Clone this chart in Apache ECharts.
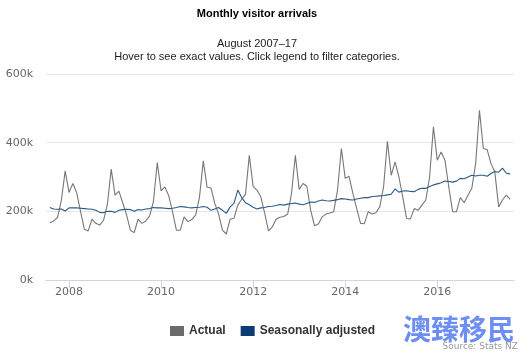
<!DOCTYPE html>
<html>
<head>
<meta charset="utf-8">
<title>Monthly visitor arrivals</title>
<script src="https://cdn.jsdelivr.net/npm/echarts@6/dist/echarts.min.js"></script>
<style>
  html, body { margin: 0; padding: 0; background: #fff; }
  #chart { width: 532px; height: 354px; }
</style>
</head>
<body>
<div id="chart"></div>
<script>
// first month of the data: August 2007, one value per month up to August 2017
var startYear = 2007;
var startMonth = 8;

// actual arrivals, thousands (Aug 2007 .. Aug 2017)
var actual = [
  167, 172, 182, 232, 318,
  255, 281, 254, 200, 148, 143, 177, 165, 160, 174, 220, 323,
  247, 259, 225, 190, 145, 138, 177, 165, 172, 186, 228, 342,
  260, 271, 245, 198, 145, 145, 184, 170, 176, 189, 240, 347,
  270, 268, 223, 192, 145, 134, 177, 180, 218, 235, 250, 363,
  272, 262, 242, 195, 143, 155, 177, 183, 185, 192, 252, 363,
  264, 281, 273, 203, 158, 163, 184, 192, 195, 199, 262, 383,
  296, 302, 252, 208, 165, 164, 199, 192, 196, 213, 271, 404,
  305, 344, 300, 242, 179, 178, 208, 203, 218, 233, 300, 446,
  349, 373, 349, 271, 199, 199, 240, 225, 247, 267, 339, 494,
  383, 380, 339, 315, 213, 233, 247, 235
];

// seasonally adjusted, thousands
var seasonal = [
  211, 207, 206, 207, 201,
  210, 210, 210, 209, 208, 207, 206, 203, 197, 196, 200, 200,
  197, 203, 205, 206, 205, 200, 205, 204, 207, 208, 211, 210,
  210, 209, 208, 209, 211, 214, 213, 211, 210, 211, 212, 214,
  212, 203, 207, 211, 203, 194, 213, 223, 262, 240, 225, 219,
  212, 207, 210, 211, 214, 215, 217, 220, 218, 221, 223, 224,
  221, 219, 223, 227, 226, 230, 233, 231, 230, 232, 234, 237,
  236, 234, 233, 236, 238, 240, 240, 243, 244, 245, 246, 248,
  250, 265, 256, 259, 260, 258, 257, 264, 267, 267, 272, 277,
  280, 283, 288, 287, 285, 288, 296, 295, 300, 305, 303, 305,
  305, 302, 310, 316, 314, 326, 311, 309
];

var tickYears = [2008, 2010, 2012, 2014, 2016];
var yTicks = [0, 200, 400, 600];

// x position = months since January 2008
function monthPos(i) {
  return (startYear - 2008) * 12 + (startMonth - 1) + i;
}
function pairs(arr) {
  return arr.map(function (v, i) { return [monthPos(i), v * 1000]; });
}
var tickPos = tickYears.map(function (y) { return (y - 2008) * 12; });

var chart = echarts.init(document.getElementById('chart'));
chart.setOption({
  animation: false,
  backgroundColor: '#fff',
  grid: { left: 46, right: 18, top: 74, bottom: 74 },
  xAxis: {
    type: 'value',
    min: monthPos(-1),
    max: monthPos(actual.length),
    axisLine: { show: true, lineStyle: { color: '#ccd6eb', width: 1 } },
    axisTick: { show: true, length: 8, customValues: tickPos, lineStyle: { color: '#ccd6eb' } },
    axisLabel: {
      customValues: tickPos,
      margin: 7,
      color: '#666',
      fontSize: 11,
      fontFamily: 'DejaVu Sans',
      formatter: function (v) { return String(2008 + Math.round(v / 12)); }
    },
    splitLine: { show: false }
  },
  yAxis: {
    type: 'value',
    min: yTicks[0] * 1000,
    max: yTicks[yTicks.length - 1] * 1000,
    interval: 200000,
    axisLine: { show: false },
    axisTick: { show: false },
    axisLabel: {
      margin: 13,
      color: '#666',
      fontSize: 11,
      fontFamily: 'DejaVu Sans',
      formatter: function (v) { return (v / 1000) + 'k'; }
    },
    splitLine: { lineStyle: { color: '#e6e6e6', width: 1 } }
  },
  legend: {
    left: 165,
    top: 320,
    itemWidth: 14,
    itemHeight: 10,
    itemGap: 15,
    icon: 'rect',
    textStyle: { color: '#333', fontSize: 12, fontWeight: 'bold', fontFamily: 'Liberation Sans' },
    data: ['Actual', 'Seasonally adjusted']
  },
  series: [
    {
      name: 'Actual',
      type: 'line',
      data: pairs(actual),
      showSymbol: false,
      color: '#6b6b6b',
      lineStyle: { color: '#777', width: 1.1 }
    },
    {
      name: 'Seasonally adjusted',
      type: 'line',
      data: pairs(seasonal),
      showSymbol: false,
      color: '#0b3c75',
      lineStyle: { color: '#2a5985', width: 1.1 }
    }
  ],
  graphic: [
    {
      type: 'text', x: 257, y: 14,
      style: { text: 'Monthly visitor arrivals', align: 'center', verticalAlign: 'middle',
               font: 'bold 11px "Liberation Sans", Arial', fill: '#000' }
    },
    {
      type: 'text', x: 257, y: 43.5,
      style: { text: 'August 2007\u201317', align: 'center', verticalAlign: 'middle',
               font: '11px "Liberation Sans", Arial', fill: '#222' }
    },
    {
      type: 'text', x: 257, y: 57,
      style: { text: 'Hover to see exact values. Click legend to filter categories.', align: 'center',
               verticalAlign: 'middle', font: '11px "Liberation Sans", Arial', fill: '#222' }
    },
    {
      type: 'text', x: 403, y: 315,
      style: { text: '澳臻移民', font: 'bold 28px "Noto Sans CJK SC"', fill: '#6d8ef2' }
    },
    {
      type: 'text', x: 518, y: 347, z: 10,
      style: { text: 'Source: Stats NZ', align: 'right', verticalAlign: 'middle',
               font: '9px "DejaVu Sans"', fill: '#999' }
    }
  ]
});
</script>
</body>
</html>
